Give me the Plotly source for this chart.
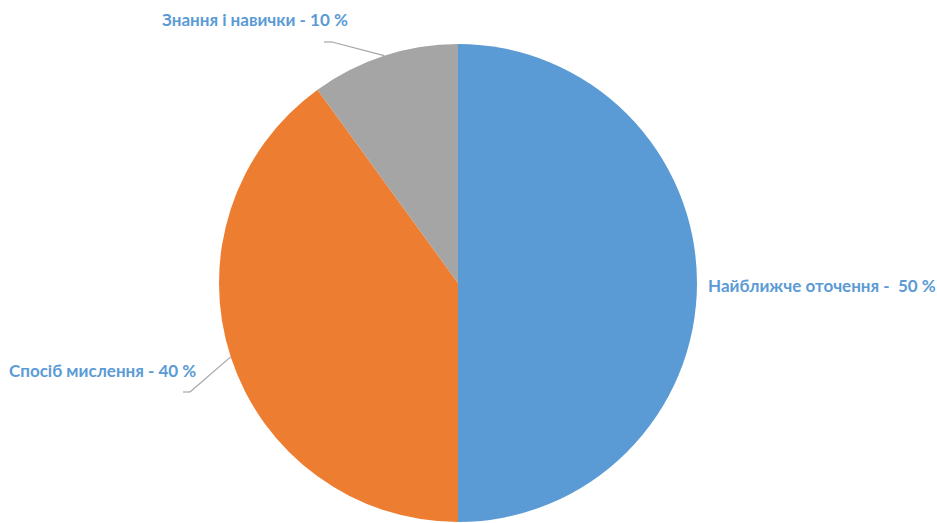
import math
import plotly.graph_objects as go

labels = ["Найближче оточення", "Спосіб мислення", "Знання і навички"]
values = [50, 40, 10]
colors = ["#5B9BD5", "#ED7D31", "#A5A5A5"]
label_texts = ["Найближче оточення -\u00a0 50 %", "Спосіб мислення - 40 %", "Знання і навички - 10 %"]

W, H = 937, 523
cx, cy, R = 458, 283, 239  # pixel geometry of the pie

fig = go.Figure(go.Pie(
    labels=labels, values=values, sort=False, direction="clockwise", rotation=0,
    marker=dict(colors=colors, line=dict(color="white", width=0)),
    textinfo="none", hoverinfo="label+percent", showlegend=False,
    domain=dict(x=[(cx - R) / W, (cx + R) / W], y=[(H - cy - R) / H, (H - cy + R) / H]),
))

def px(x, y):
    return x / W, 1 - y / H

total = sum(values)
mids = []
acc = 0
for v in values:
    mids.append((acc + v / 2) / total * 360)
    acc += v

def edge(i, r=R):
    a = math.radians(mids[i])
    return cx + r * math.sin(a), cy - r * math.cos(a)

font = dict(family="Lato, 'Open Sans', sans-serif", size=17, color="#5B9BD5")
label_pos = [(706, 285, "left"), (198, 370, "right"), (350, 20, "right")]
for (x, y, anc), t in zip(label_pos, label_texts):
    ax, ay = px(x, y)
    fig.add_annotation(x=ax, y=ay, xref="paper", yref="paper", text="<b>%s</b>" % t,
                       showarrow=False, xanchor=anc, yanchor="middle", font=font)

line = dict(color="#A6A6A6", width=1.2)
ex, ey = edge(2)
pts = [(324, 42), (332, 42), (ex, ey)]
for i in range(2):
    x0, y0 = px(*pts[i]); x1, y1 = px(*pts[i + 1])
    fig.add_shape(type="line", xref="paper", yref="paper", x0=x0, y0=y0, x1=x1, y1=y1, line=line)
ex, ey = edge(1)
pts = [(ex, ey), (190, 392), (183, 392)]
for i in range(2):
    x0, y0 = px(*pts[i]); x1, y1 = px(*pts[i + 1])
    fig.add_shape(type="line", xref="paper", yref="paper", x0=x0, y0=y0, x1=x1, y1=y1, line=line)

fig.update_layout(width=W, height=H, margin=dict(l=0, r=0, t=0, b=0),
                  paper_bgcolor="white", plot_bgcolor="white")
fig.write_html("out.html", config={"displayModeBar": False},
               post_script="document.body.style.margin='0';")
